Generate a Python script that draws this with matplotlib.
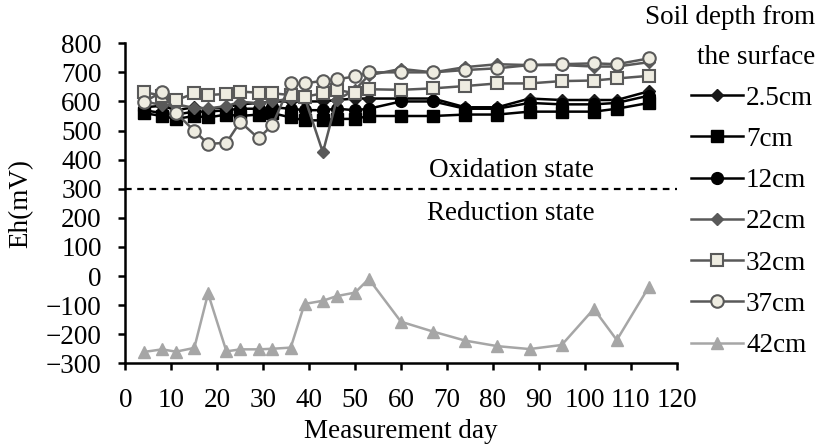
import numpy as np
import matplotlib.pyplot as plt

plt.rcParams['font.family'] = ['Liberation Serif', 'DejaVu Serif']

# --- data ---
days = [4, 8, 11, 15, 18, 22, 25, 29, 32, 36, 39, 43, 46, 50, 53,
        60, 67, 74, 81, 88, 95, 102, 107, 114]

eh_2_5cm = [580, 585, 570, 580, 575, 580, 590, 595, 600, 600, 600, 600, 605, 610, 610,
            610, 610, 580, 580, 610, 605, 605, 605, 635]
eh_7cm = [560, 550, 540, 550, 545, 555, 550, 555, 560, 545, 535, 535, 540, 540, 550,
          550, 550, 555, 555, 565, 565, 565, 575, 595]
eh_12cm = [570, 560, 555, 565, 565, 570, 575, 575, 580, 575, 570, 570, 575, 570, 575,
           600, 600, 575, 575, 595, 590, 590, 595, 620]
eh_22cm = [600, 588, 590, 578, 576, 584, 599, 594, 600, 610, 615, 425, 605, 640, 690,
           712, 700, 718, 728, 725, 725, 720, 720, 735]
eh_32cm = [632, 620, 604, 628, 622, 626, 634, 630, 628, 622, 616, 628, 640, 628, 642,
           640, 645, 653, 662, 662, 670, 672, 679, 688]
eh_37cm = [598, 633, 561, 499, 454, 458, 530, 473, 519, 662, 662, 671, 676, 686, 700,
           700, 700, 708, 714, 725, 728, 731, 728, 748]
eh_42cm = [-261, -252, -260, -247, -60, -259, -252, -252, -250, -246, -96, -85, -69, -57, -10,
           -157, -191, -222, -241, -251, -237, -113, -220, -37]

labels = ['2.5cm', '7cm', '12cm', '22cm', '32cm', '37cm', '42cm']
series = [eh_2_5cm, eh_7cm, eh_12cm, eh_22cm, eh_32cm, eh_37cm, eh_42cm]

# --- styles ---
dark = '#595959'
light_fill = '#EEECE1'
styles = [
    dict(color='black', marker='D', ms=6.5, mfc='#1a1a1a', mec='#1a1a1a'),
    dict(color='black', marker='s', ms=8, mfc='black', mec='black'),
    dict(color='black', marker='o', ms=8.5, mfc='black', mec='black'),
    dict(color=dark, marker='D', ms=6.5, mfc=dark, mec=dark),
    dict(color=dark, marker='s', ms=8, mfc=light_fill, mec=dark, mew=1.5),
    dict(color=dark, marker='o', ms=9, mfc=light_fill, mec=dark, mew=1.5),
    dict(color='#A6A6A6', marker='^', ms=9, mfc='#A6A6A6', mec='#A6A6A6'),
]

fs = 19.5

fig = plt.figure(figsize=(8.25, 4.46), dpi=100)
ax = fig.add_axes([0.152, 0.1854, 0.668, 0.7176])

for vals, lab, st in zip(series, labels, styles):
    ax.plot(days, vals, lw=1.8, label=lab, **st)

ax.axhline(300, color='black', ls=(0, (3, 2.5)), lw=1.6)
ax.text(84, 364, 'Oxidation state', ha='center', va='center', fontsize=fs)
ax.text(84, 214, 'Reduction state', ha='center', va='center', fontsize=fs)

ax.set_xlim(0, 120)
ax.set_ylim(-300, 800)
ax.set_xticks(np.arange(0, 121, 10))
ax.set_yticks(np.arange(-300, 801, 100))
ax.tick_params(direction='out', length=5, width=1.8, labelsize=fs)
ax.tick_params(axis='y', pad=12)
ax.tick_params(axis='x', pad=13)
for s in ['top', 'right']:
    ax.spines[s].set_visible(False)
for s in ['left', 'bottom']:
    ax.spines[s].set_linewidth(1.8)

ax.set_xlabel('Measurement day', fontsize=fs, labelpad=4)
ax.set_ylabel('Eh(mV)', fontsize=fs, labelpad=9)

fig.text(0.988, 0.988, 'Soil depth from\nthe surface', ha='right', va='top',
         fontsize=fs, multialignment='right', linespacing=1.75)

handles, labs = ax.get_legend_handles_labels()
fig.legend(handles, labs, loc='upper left', bbox_to_anchor=(0.838, 0.808),
           frameon=False, fontsize=fs, handlelength=1.9, handletextpad=0.12,
           labelspacing=0.6, borderpad=0, borderaxespad=0)

fig.savefig('out.png', dpi=100)
